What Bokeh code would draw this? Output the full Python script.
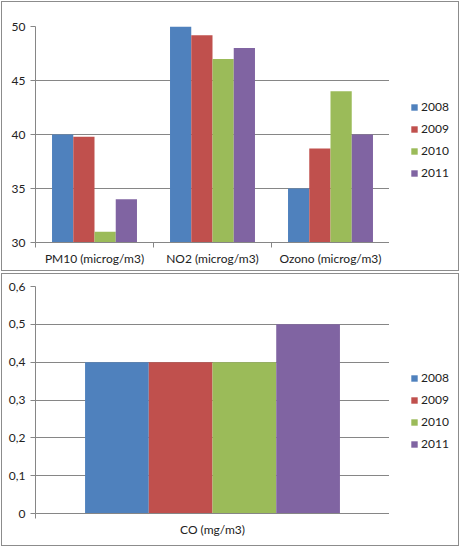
from bokeh.plotting import figure
from bokeh.models import Range1d, FixedTicker, Legend, LegendItem, ColumnDataSource
from bokeh.transform import dodge
from bokeh.layouts import column, row
from bokeh.embed import file_html
from bokeh.resources import INLINE

# data
years = ["2008", "2009", "2010", "2011"]
colors = ["#4F81BD", "#C0504D", "#9BBB59", "#8064A2"]

top_categories = ["PM10 (microg/m3)", "NO2 (microg/m3)", "Ozono (microg/m3)"]
top_2008 = [40, 50, 35]
top_2009 = [39.8, 49.2, 38.7]
top_2010 = [31, 47, 44]
top_2011 = [34, 48, 40]
top_ticks = [30, 35, 40, 45, 50]
top_tick_labels = ["30", "35", "40", "45", "50"]

co_categories = ["CO (mg/m3)"]
co_2008 = [0.4]
co_2009 = [0.4]
co_2010 = [0.4]
co_2011 = [0.5]
co_ticks = [0, 0.1, 0.2, 0.3, 0.4, 0.5, 0.6]
co_tick_labels = ["0", "0,1", "0,2", "0,3", "0,4", "0,5", "0,6"]

GRAY = "#868686"
TEXT = "#222222"
FONT = "Lato"


def make_chart(categories, series, ticks, tick_labels, height, top_border, bottom_border, legend_y):
    n = len(categories)
    centers = [i + 0.5 for i in range(n)]
    data = {"x": centers}
    for yr, vals in zip(years, series):
        data[yr] = vals
    src = ColumnDataSource(data)

    p = figure(width=389, height=height, output_backend="svg", toolbar_location=None,
               x_range=Range1d(0, n), y_range=Range1d(ticks[0], ticks[-1]))
    p.min_border_left = 35
    p.min_border_right = 0
    p.min_border_top = top_border
    p.min_border_bottom = bottom_border
    p.outline_line_color = None
    p.border_fill_color = None

    offsets = [-0.27, -0.09, 0.09, 0.27]
    for yr, c, off in zip(years, colors, offsets):
        p.vbar(x=dodge("x", off), top=yr, bottom=ticks[0], width=0.18,
               source=src, fill_color=c, line_color=None)

    xa = p.xaxis[0]
    xa.ticker = FixedTicker(ticks=centers, minor_ticks=list(range(n + 1)))
    xa.major_label_overrides = dict(zip(centers, categories))
    xa.major_tick_line_color = None
    xa.major_tick_out = 0
    xa.minor_tick_line_color = GRAY
    xa.minor_tick_in = 0
    xa.minor_tick_out = 5
    xa.axis_line_color = GRAY
    xa.major_label_standoff = 3

    ya = p.yaxis[0]
    ya.ticker = FixedTicker(ticks=ticks)
    ya.major_label_overrides = dict(zip(ticks, tick_labels))
    ya.major_tick_line_color = GRAY
    ya.major_tick_in = 0
    ya.major_tick_out = 5
    ya.minor_tick_line_color = None
    ya.axis_line_color = GRAY
    ya.major_label_standoff = 5

    for ax in (xa, ya):
        ax.major_label_text_font = FONT
        ax.major_label_text_font_size = "12px"
        ax.major_label_text_color = TEXT

    p.xgrid.visible = False
    p.ygrid.ticker = FixedTicker(ticks=ticks)
    p.ygrid.grid_line_color = GRAY

    # legend lives in a small side figure so it can sit right of the grid
    lg = figure(width=71, height=height, output_backend="svg", toolbar_location=None,
                x_axis_type=None, y_axis_type=None, min_border=0,
                x_range=Range1d(0, 1), y_range=Range1d(0, 1))
    lg.outline_line_color = None
    lg.border_fill_color = None
    lg.background_fill_color = None
    lg.grid.visible = False
    items = []
    for yr, c in zip(years, colors):
        # zero-size swatch holder, only the legend shows it
        r = lg.vbar(x=[0], top=[0], bottom=0, width=0, fill_color=c, line_color=None)
        items.append(LegendItem(label=yr, renderers=[r]))
    legend = Legend(items=items, location=(21, legend_y), border_line_color=None,
                    background_fill_alpha=0, padding=0, margin=0, spacing=7,
                    glyph_width=8, glyph_height=8, label_standoff=3,
                    label_text_font=FONT, label_text_font_size="12px",
                    label_text_color=TEXT)
    lg.add_layout(legend)

    r = row(p, lg)
    r.styles = {"outline": "1px solid #8c8c8c", "outline-offset": "-2px"}
    return r


c1 = make_chart(top_categories, [top_2008, top_2009, top_2010, top_2011],
                top_ticks, top_tick_labels, 272, 26, 30, 62)
c2 = make_chart(co_categories, [co_2008, co_2009, co_2010, co_2011],
                co_ticks, co_tick_labels, 275, 14, 34, 62)

page = column(c1, c2)
open("out.html", "w").write(file_html(page, INLINE))
